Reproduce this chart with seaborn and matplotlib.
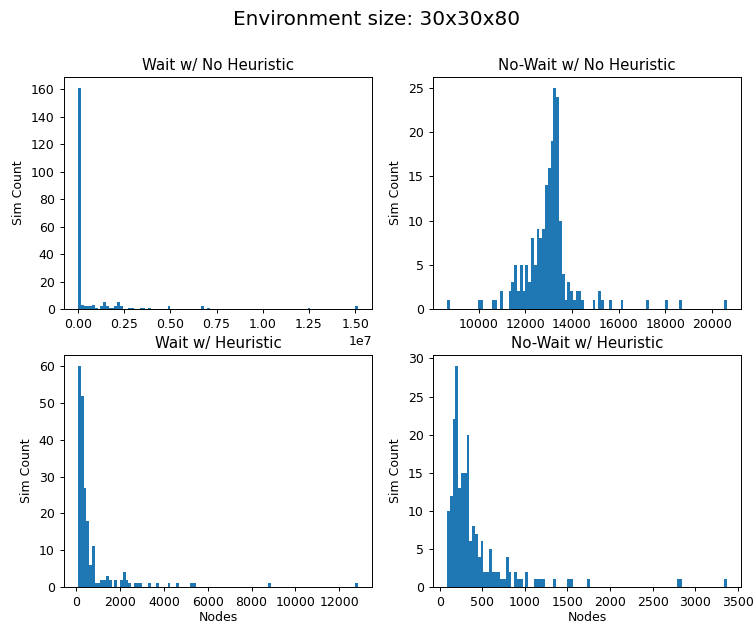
import numpy as np
import matplotlib
matplotlib.use("Agg")
import matplotlib.pyplot as plt
from matplotlib.ticker import MultipleLocator
import seaborn as sns

# histogram counts (100 bins per panel)
# Wait w/ No Heuristic
wnh_range = (0.0, 1.515e7)
wnh_bins = [0, 1, 2, 3, 4, 5, 6, 8, 9, 10, 11, 12, 13, 14, 15, 18, 19,
            22, 23, 25, 32, 44, 46, 82, 99]
wnh_counts = [161, 3, 2, 2, 2, 3, 1, 2, 5, 2, 1, 1, 2, 5, 2, 1, 1,
              1, 1, 1, 2, 2, 1, 1, 2]

# No-Wait w/ No Heuristic
nwnh_range = (8646, 20640)
nwnh_bins = [0, 11, 12, 16, 17, 19, 22, 23, 24, 25, 26, 27, 28, 29, 30,
             31, 32, 33, 34, 35, 36, 37, 38, 39, 40, 41, 42, 43, 44, 45,
             46, 47, 48, 52, 54, 55, 58, 62, 71, 78, 83, 99]
nwnh_counts = [1, 1, 1, 1, 1, 2, 2, 3, 5, 2, 5, 2, 5, 3, 8,
               5, 9, 8, 9, 14, 16, 19, 25, 24, 10, 4, 1, 3, 2, 1,
               2, 2, 1, 1, 2, 1, 1, 1, 1, 1, 1, 1]

# Wait w/ Heuristic
wh_range = (73, 12858)
wh_bins = [0, 1, 2, 3, 4, 5, 6, 7, 8, 9, 10, 11, 13, 15, 16, 17, 18,
           20, 21, 22, 25, 28, 32, 35, 40, 41, 68, 99]
wh_counts = [60, 52, 27, 18, 6, 11, 1, 1, 2, 2, 3, 2, 2, 2, 4, 2, 1,
             1, 1, 1, 1, 1, 1, 1, 1, 1, 1, 1]

# No-Wait w/ Heuristic
nwh_range = (86, 3373)
nwh_bins = [0, 1, 2, 3, 4, 5, 6, 7, 8, 9, 10, 11, 12, 13, 14, 15, 16,
            17, 18, 19, 20, 21, 22, 24, 25, 26, 28, 31, 32, 33, 34, 38,
            43, 44, 50, 82, 83, 99]
nwh_counts = [10, 12, 22, 29, 13, 15, 15, 20, 6, 8, 7, 4, 6, 2, 2, 5, 2,
              2, 2, 1, 1, 4, 2, 2, 1, 1, 2, 1, 1, 1, 1, 1,
              1, 1, 1, 1, 1, 1]

panels = [
    ("Wait w/ No Heuristic", wnh_range, wnh_bins, wnh_counts, None, 20),
    ("No-Wait w/ No Heuristic", nwnh_range, nwnh_bins, nwnh_counts, 2000, 5),
    ("Wait w/ Heuristic", wh_range, wh_bins, wh_counts, 2000, 10),
    ("No-Wait w/ Heuristic", nwh_range, nwh_bins, nwh_counts, 500, 5),
]

sns.set_style("ticks")
plt.rcParams['font.family'] = ['DejaVu Sans']
plt.rcParams.update({
    'font.size': 9,
    'text.color': 'black',
    'axes.labelcolor': 'black',
    'xtick.color': 'black',
    'ytick.color': 'black',
})

fig, axes = plt.subplots(2, 2, figsize=(7.53, 6.25), dpi=100)
positions = [
    [0.085, 0.5056, 0.409, 0.3712],
    [0.575, 0.5056, 0.409, 0.3712],
    [0.085, 0.0608, 0.409, 0.3712],
    [0.575, 0.0608, 0.409, 0.3712],
]

for i, (ax, (title, (lo, hi), bins, counts, xstep, ystep)) in enumerate(zip(axes.flat, panels)):
    width = (hi - lo) / 100
    centers = lo + (np.array(bins) + 0.5) * width
    sns.histplot(x=centers, weights=counts, bins=100, binrange=(lo, hi),
                 ax=ax, color='#1f77b4', alpha=1, linewidth=0)
    ax.set_position(positions[i])
    ax.set_title(title, fontsize=10.8, color='black', pad=5)
    ax.set_ylabel('Sim Count', fontsize=9)
    ax.set_xlabel('Nodes' if i >= 2 else '', fontsize=9, labelpad=1.5)
    if xstep:
        ax.xaxis.set_major_locator(MultipleLocator(xstep))
    ax.yaxis.set_major_locator(MultipleLocator(ystep))
    ax.tick_params(direction='out', length=3.2, width=0.7, colors='black', labelsize=9)
    for s in ax.spines.values():
        s.set_visible(True)
        s.set_color('black')
        s.set_linewidth(0.7)

fig.suptitle('Environment size: 30x30x80', fontsize=14.4, y=0.984, color='black')
fig.savefig('out.png', dpi=100)
plt.close()
